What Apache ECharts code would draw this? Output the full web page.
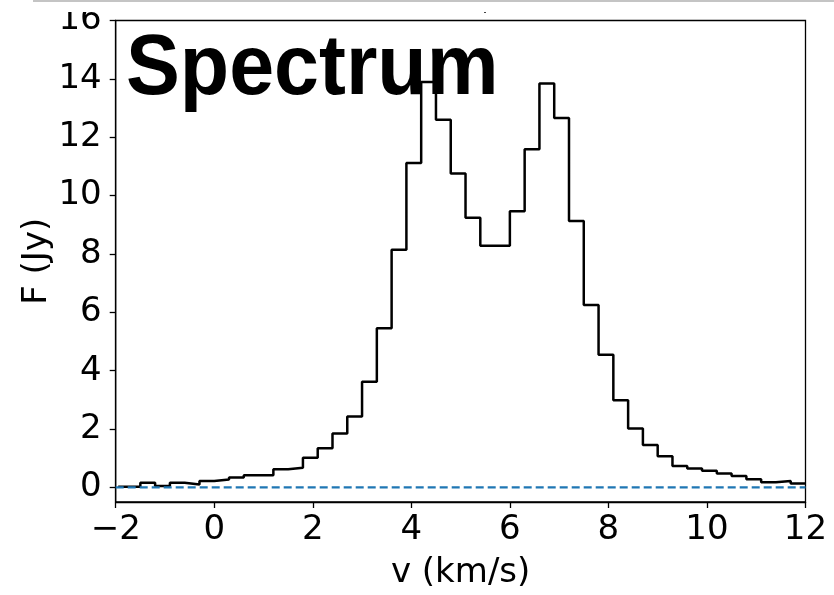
<!DOCTYPE html>
<html>
<head>
<meta charset="utf-8">
<script src="https://cdn.jsdelivr.net/npm/echarts@6/dist/echarts.min.js"></script>
<style>
html,body{margin:0;padding:0;background:#fff;}
#chart{width:834px;height:595px;}
</style>
</head>
<body>
<div id="chart"></div>
<script>
// bin edges (km/s) of the step spectrum
const binEdges = [-1.95, -1.5, -1.2, -0.9, -0.6, -0.3, 0.0, 0.3, 0.6, 0.9, 1.2, 1.5, 1.8, 2.1, 2.4, 2.7,
  3.0, 3.3, 3.6, 3.9, 4.2, 4.5, 4.8, 5.1, 5.4, 5.7, 6.0, 6.3, 6.6, 6.9, 7.2, 7.5, 7.8, 8.1, 8.4, 8.7,
  9.0, 9.3, 9.6, 9.9, 10.2, 10.5, 10.8, 11.1, 11.4, 11.7, 12.0];
// flux per bin (Jy)
const fluxValues = [0.02, 0.16, 0.05, 0.16, 0.10, 0.22, 0.27, 0.34, 0.42, 0.42, 0.62, 0.67, 1.02, 1.34,
  1.85, 2.43, 3.62, 5.45, 8.14, 11.12, 13.89, 12.6, 10.76, 9.24, 8.28, 8.28, 9.46, 11.59, 13.84, 12.66,
  9.13, 6.25, 4.55, 2.99, 2.02, 1.45, 1.07, 0.73, 0.65, 0.57, 0.48, 0.39, 0.28, 0.18, 0.22, 0.13];
// zero reference line
const baselineX = [-2, 12];
const baselineY = 0;
// tick labels
const xTicks = [-2, 0, 2, 4, 6, 8, 10, 12];
const yTicks = [0, 2, 4, 6, 8, 10, 12, 14, 16];
const titleText = 'Spectrum';
const xName = 'v (km/s)';
const yName = 'F (Jy)';

const stepData = fluxValues.map((v, i) => [binEdges[i], v]);
stepData.push([binEdges[binEdges.length - 1], fluxValues[fluxValues.length - 1]]);
const baseData = baselineX.map(x => [x, baselineY]);

const font = 'DejaVu Sans';
const fs = 34;
const chart = echarts.init(document.getElementById('chart'), null, {renderer: 'canvas'});
chart.setOption({
  animation: false,
  backgroundColor: '#ffffff',
  grid: {left: 115.7, right: 28.5, top: 20.5, bottom: 91, show: true, borderColor: '#000', borderWidth: 1.3, containLabel: false},
  xAxis: {
    type: 'value', min: -2, max: 12, interval: 2,
    axisLine: {show: true, onZero: false, lineStyle: {color: '#000', width: 1.3}},
    axisTick: {show: true, inside: false, length: 6, customValues: xTicks, lineStyle: {color: '#000', width: 1.3}},
    axisLabel: {color: '#000', fontSize: fs, fontFamily: font, margin: 11, customValues: xTicks,
      formatter: v => (v < 0 ? '\u2212' + Math.abs(v) : String(v))},
    splitLine: {show: false},
    name: xName, nameLocation: 'middle', nameGap: 54,
    nameTextStyle: {color: '#000', fontSize: fs, fontFamily: font}
  },
  yAxis: {
    type: 'value', min: -0.5, max: 16,
    axisLine: {show: true, onZero: false, lineStyle: {color: '#000', width: 1.3}},
    axisTick: {show: true, inside: false, length: 6, customValues: yTicks, lineStyle: {color: '#000', width: 1.3}},
    axisLabel: {color: '#000', fontSize: fs, fontFamily: font, margin: 14, customValues: yTicks},
    splitLine: {show: false},
    name: yName, nameLocation: 'middle', nameGap: 62, nameRotate: 90, nameMoveOverlap: false,
    nameTextStyle: {color: '#000', fontSize: fs, fontFamily: font}
  },
  series: [
    {type: 'line', data: stepData, step: 'end', showSymbol: false, symbol: 'none',
      lineStyle: {color: '#000', width: 2.5}, clip: true, z: 3},
    {type: 'line', data: baseData, showSymbol: false, symbol: 'none',
      lineStyle: {color: '#1f77b4', width: 2.2, type: [8, 4]}, clip: true, z: 4}
  ],
  graphic: [
    {type: 'text', x: 126, y: 28, scaleX: 0.95, z: 10,
      style: {text: titleText, fontSize: 85, fontWeight: 'bold', fontFamily: 'Liberation Sans', fill: '#000'}},
    {type: 'rect', shape: {x: 0, y: 0, width: 834, height: 12}, style: {fill: '#fff'}, z: 20, silent: true},
    {type: 'rect', shape: {x: 33, y: 0, width: 801, height: 2}, style: {fill: '#c4c4c4'}, z: 21, silent: true},
    {type: 'rect', shape: {x: 484, y: 12, width: 2, height: 1}, style: {fill: '#444'}, z: 21, silent: true}
  ]
});
</script>
</body>
</html>
